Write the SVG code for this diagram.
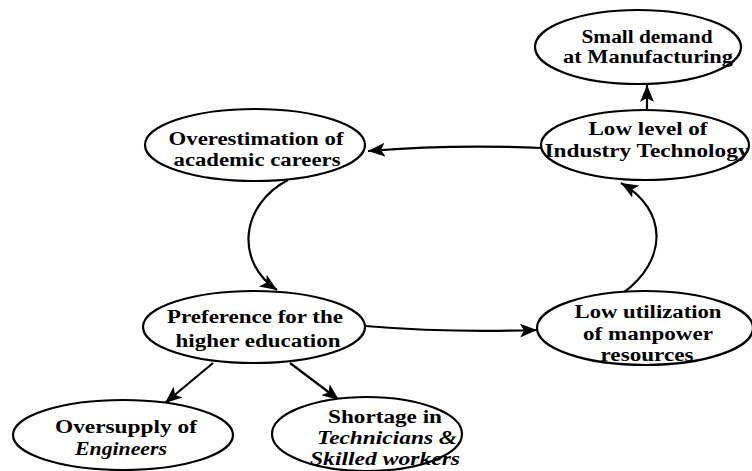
<svg xmlns="http://www.w3.org/2000/svg" width="752" height="471" viewBox="0 0 752 471">
  <style>
    .node ellipse { fill: #ffffff; stroke: #000000; stroke-width: 2.2; }
    .node text { font-family: "Liberation Serif", "Times New Roman", serif; font-size: 18px; fill: #000000; text-anchor: middle; font-weight: bold; }
    .node text.it { font-style: italic; }
    .links path { fill: none; stroke: #000000; stroke-width: 2.2; }
  </style>
  <defs>
    <marker id="arrow" markerUnits="userSpaceOnUse" markerWidth="20" markerHeight="16" refX="17" refY="7" orient="auto">
      <path d="M0,0 L17,7 L0,14 L4,7 Z" fill="#000000"/>
    </marker>
  </defs>

  <!-- connectors -->
  <g class="links">
    <path d="M647,110 L647,85" marker-end="url(#arrow)"/>
    <path d="M542,148 Q455,144 368,151" marker-end="url(#arrow)"/>
    <path d="M288,180 C240,205 235,262 277,290" marker-end="url(#arrow)"/>
    <path d="M365,326 Q450,333 537,330" marker-end="url(#arrow)"/>
    <path d="M623,293 C668,260 668,210 621,183" marker-end="url(#arrow)"/>
    <path d="M213,363 L165,403" marker-end="url(#arrow)"/>
    <path d="M290,363 L339,400" marker-end="url(#arrow)"/>
  </g>

  <!-- nodes -->
  <g id="small-demand" class="node">
    <ellipse cx="638" cy="47" rx="103" ry="37"/>
    <text x="647" y="43" textLength="131" lengthAdjust="spacingAndGlyphs">Small demand</text>
    <text x="648" y="63" textLength="170" lengthAdjust="spacingAndGlyphs">at Manufacturing</text>
  </g>

  <g id="low-level" class="node">
    <ellipse cx="645" cy="145" rx="104" ry="35"/>
    <text x="648" y="135" textLength="119" lengthAdjust="spacingAndGlyphs">Low level of</text>
    <text x="647" y="157" textLength="205" lengthAdjust="spacingAndGlyphs">Industry Technology</text>
  </g>

  <g id="overestimation" class="node">
    <ellipse cx="255" cy="145" rx="110" ry="36"/>
    <text x="256" y="145" textLength="175" lengthAdjust="spacingAndGlyphs">Overestimation of</text>
    <text x="257" y="166" textLength="167" lengthAdjust="spacingAndGlyphs">academic careers</text>
  </g>

  <g id="preference" class="node">
    <ellipse cx="254" cy="327" rx="111" ry="36"/>
    <text x="255" y="323" textLength="176" lengthAdjust="spacingAndGlyphs">Preference for the</text>
    <text x="258" y="347" textLength="165" lengthAdjust="spacingAndGlyphs">higher education</text>
  </g>

  <g id="low-utilization" class="node">
    <ellipse cx="645" cy="328" rx="108" ry="37"/>
    <text x="648" y="318" textLength="147" lengthAdjust="spacingAndGlyphs">Low utilization</text>
    <text x="648" y="340" textLength="130" lengthAdjust="spacingAndGlyphs">of manpower</text>
    <text x="647" y="361" textLength="93" lengthAdjust="spacingAndGlyphs">resources</text>
  </g>

  <g id="oversupply" class="node">
    <ellipse cx="123" cy="435" rx="110" ry="35"/>
    <text x="126" y="433" textLength="142" lengthAdjust="spacingAndGlyphs">Oversupply of</text>
    <text class="it" x="121" y="455" textLength="92" lengthAdjust="spacingAndGlyphs">Engineers</text>
  </g>

  <g id="shortage" class="node">
    <ellipse cx="367" cy="434" rx="95" ry="37"/>
    <text x="385" y="423" textLength="114" lengthAdjust="spacingAndGlyphs">Shortage in</text>
    <text class="it" x="387" y="444" textLength="140" lengthAdjust="spacingAndGlyphs">Technicians &amp;</text>
    <text class="it" x="385" y="465" textLength="150" lengthAdjust="spacingAndGlyphs">Skilled workers</text>
  </g>
</svg>
